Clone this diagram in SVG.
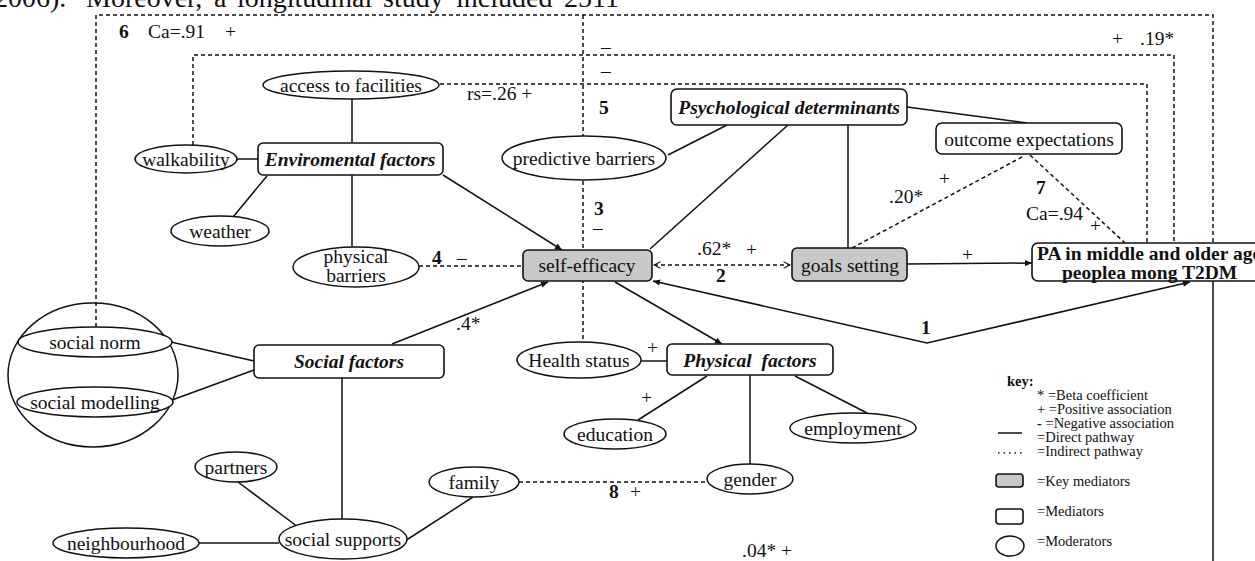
<svg xmlns="http://www.w3.org/2000/svg" width="1255" height="561" viewBox="0 0 1255 561">
<defs>
<marker id="ah" viewBox="0 0 10 10" refX="10" refY="5" markerUnits="userSpaceOnUse" markerWidth="9" markerHeight="7" orient="auto-start-reverse"><path d="M0,0.5 L10,5 L0,9.5 z" fill="#111"/></marker>
<marker id="ch" viewBox="0 0 10 10" refX="9" refY="5" markerUnits="userSpaceOnUse" markerWidth="8" markerHeight="8" orient="auto-start-reverse"><path d="M1,1 L9,5 L1,9" fill="none" stroke="#111" stroke-width="1.3"/></marker>
</defs>
<style>
text{font-family:"Liberation Serif","Times New Roman",serif;fill:#111;font-size:19.5px}
.b{font-weight:bold}
.bi{font-weight:bold;font-style:italic}
.c{text-anchor:middle}
.k{font-size:14.5px}
.t{font-size:28px}
.s{fill:none;stroke:#111;stroke-width:1.5}
.d{fill:none;stroke:#111;stroke-width:1.5;stroke-dasharray:4 3}
.box{fill:#fff;stroke:#111;stroke-width:1.6}
.key{fill:#c8c8c8;stroke:#111;stroke-width:1.6}
.el{fill:#fff;stroke:#111;stroke-width:1.5}
</style>
<rect width="1255" height="561" fill="#fff"/>
<g id="toptext">
<text class="t" x="-6" y="7">2006).</text>
<text class="t" x="86" y="7">Moreover,</text>
<text class="t" x="214" y="7">a</text>
<text class="t" x="237" y="7">longitudinal</text>
<text class="t" x="383" y="7">study</text>
<text class="t" x="456" y="7">included</text>
<text class="t" x="564" y="7">2511</text>
</g>

<g id="connectors">
<path class="d" d="M96,327 V15 H1213 V243"/>
<path class="d" d="M193,145 V55 H1174 V243"/>
<path class="d" d="M440,84 H1147 V243"/>
<path class="d" d="M583,15 V136"/>
<path class="d" d="M583,181 V342"/>
<path class="d" d="M419,266 H523"/>
<path class="d" d="M654,265 H790" marker-start="url(#ch)" marker-end="url(#ch)"/>
<path class="d" d="M852,248 L1022,157"/>
<path class="d" d="M1030,155 L1125,243"/>
<path class="d" d="M519,482 H707"/>
<path class="s" d="M352,99 V143"/>
<path class="s" d="M236,159 H258"/>
<path class="s" d="M267,176 L233,217"/>
<path class="s" d="M352,175 V247"/>
<path class="s" d="M443,175 L562,250" marker-end="url(#ah)"/>
<path class="s" d="M727,125 L668,155"/>
<path class="s" d="M788,125 L650,249"/>
<path class="s" d="M848,125 V248"/>
<path class="s" d="M907,107 L1027,123"/>
<path class="s" d="M907,264 L1032,263" marker-end="url(#ah)"/>
<path class="s" d="M653,281 L927,343 L1190,282" marker-start="url(#ah)" marker-end="url(#ah)"/>
<path class="s" d="M615,282 L722,344" marker-end="url(#ah)"/>
<path class="s" d="M392,344 L548,282" marker-end="url(#ah)"/>
<path class="s" d="M171,342 L254,361"/>
<path class="s" d="M172,400 L254,370"/>
<path class="s" d="M342,378 V519"/>
<path class="s" d="M199,543 H279"/>
<path class="s" d="M238,482 L298,527"/>
<path class="s" d="M473,497 L405,541"/>
<path class="s" d="M641,361 H667"/>
<path class="s" d="M707,376 L638,420"/>
<path class="s" d="M750,375 V464"/>
<path class="s" d="M795,376 L867,413"/>
<path class="s" d="M1213,281 V561"/>
</g>

<g id="labels">
<text x="119" y="38" class="b">6</text>
<text x="148" y="38">Ca=.91</text>
<text x="225" y="38">+</text>
<text x="601" y="53">–</text>
<text x="601" y="77">–</text>
<text x="1112" y="45">+</text>
<text x="1140" y="45">.19*</text>
<text x="467" y="100">rs=.26 +</text>
<text x="599" y="114" class="b">5</text>
<text x="594" y="215" class="b">3</text>
<text x="593" y="234">–</text>
<text x="432" y="264" class="b">4</text>
<text x="457" y="264">–</text>
<text x="697" y="255">.62*</text>
<text x="746" y="256">+</text>
<text x="716" y="282" class="b">2</text>
<text x="889" y="203">.20*</text>
<text x="939" y="185">+</text>
<text x="1036" y="194" class="b">7</text>
<text x="1026" y="220">Ca=.94</text>
<text x="1090" y="232">+</text>
<text x="962" y="261">+</text>
<text x="921" y="334" class="b">1</text>
<text x="456" y="330">.4*</text>
<text x="647" y="354">+</text>
<text x="641" y="404">+</text>
<text x="609" y="498" class="b">8</text>
<text x="630" y="498">+</text>
<text x="742" y="557">.04* +</text>
</g>

<g id="n-access"><ellipse class="el" cx="351" cy="85" rx="88" ry="14"/><text class="c" x="351" y="92">access to facilities</text></g>
<g id="n-walkability"><ellipse class="el" cx="186" cy="159" rx="51" ry="14"/><text class="c" x="186" y="166">walkability</text></g>
<g id="n-env"><rect class="box" x="258" y="143" width="185" height="32" rx="5"/><text class="c bi" x="350" y="166">Enviromental factors</text></g>
<g id="n-weather"><ellipse class="el" cx="220" cy="231" rx="49" ry="15"/><text class="c" x="220" y="238">weather</text></g>
<g id="n-physbarriers"><ellipse class="el" cx="356" cy="267" rx="63" ry="20"/><text class="c" x="356" y="263">physical</text><text class="c" x="356" y="282">barriers</text></g>
<g id="n-predictive"><ellipse class="el" cx="584" cy="158" rx="82" ry="22"/><text class="c" x="584" y="165">predictive barriers</text></g>
<g id="n-psych"><rect class="box" x="671" y="89" width="236" height="36" rx="6"/><text class="c bi" x="789" y="114">Psychological determinants</text></g>
<g id="n-outcome"><rect class="box" x="936" y="123" width="186" height="31" rx="6"/><text class="c" x="1029" y="146">outcome expectations</text></g>
<g id="n-selfeff"><rect class="key" x="523" y="250" width="129" height="31" rx="5"/><text class="c" x="587" y="272">self-efficacy</text></g>
<g id="n-goals"><rect class="key" x="792" y="248" width="115" height="33" rx="5"/><text class="c" x="850" y="272">goals setting</text></g>
<g id="n-pa"><rect class="box" x="1032" y="243" width="240" height="38" rx="6"/><text class="b" x="1037" y="260">PA in middle and older age</text><text class="b" x="1062" y="279">peoplea mong T2DM</text></g>
<g id="n-socialgroup"><ellipse cx="93" cy="375" rx="85" ry="72" fill="none" stroke="#111" stroke-width="1.5"/>
<ellipse class="el" cx="95" cy="342" rx="77" ry="15"/><text class="c" x="95" y="349">social norm</text>
<ellipse class="el" cx="95" cy="402" rx="78" ry="15"/><text class="c" x="95" y="409">social modelling</text></g>
<g id="n-socfactors"><rect class="box" x="254" y="345" width="190" height="33" rx="5"/><text class="c bi" x="349" y="368">Social factors</text></g>
<g id="n-health"><ellipse class="el" cx="579" cy="360" rx="62" ry="18"/><text class="c" x="579" y="367">Health status</text></g>
<g id="n-physical"><rect class="box" x="667" y="344" width="166" height="31" rx="5"/><text class="c bi" x="750" y="367" word-spacing="5">Physical factors</text></g>
<g id="n-education"><ellipse class="el" cx="615" cy="434" rx="51" ry="15"/><text class="c" x="615" y="441">education</text></g>
<g id="n-employment"><ellipse class="el" cx="853" cy="428" rx="63" ry="15"/><text class="c" x="853" y="435">employment</text></g>
<g id="n-gender"><ellipse class="el" cx="750" cy="479" rx="43" ry="15"/><text class="c" x="750" y="486">gender</text></g>
<g id="n-family"><ellipse class="el" cx="474" cy="482" rx="45" ry="15"/><text class="c" x="474" y="489">family</text></g>
<g id="n-partners"><ellipse class="el" cx="236" cy="467" rx="41" ry="15"/><text class="c" x="236" y="474">partners</text></g>
<g id="n-neighbourhood"><ellipse class="el" cx="126" cy="543" rx="73" ry="15"/><text class="c" x="126" y="550">neighbourhood</text></g>
<g id="n-socsupports"><ellipse class="el" cx="343" cy="539" rx="64" ry="20"/><text class="c" x="343" y="546">social supports</text></g>

<g id="key">
<text class="k b" x="1007" y="386">key:</text>
<text class="k" x="1037" y="400">* =Beta coefficient</text>
<text class="k" x="1037" y="414">+ =Positive association</text>
<text class="k" x="1037" y="428"><tspan font-weight="bold">-</tspan> =Negative association</text>
<path d="M998,433 H1022" stroke="#111" stroke-width="1.5"/>
<text class="k" x="1037" y="442">=Direct pathway</text>
<path d="M998,453 H1022" stroke="#111" stroke-width="1.3" stroke-dasharray="1.5 4"/>
<text class="k" x="1037" y="456">=Indirect pathway</text>
<rect class="key" x="996" y="474" width="27" height="13" rx="3"/>
<text class="k" x="1037" y="486">=Key mediators</text>
<rect class="box" x="996" y="509" width="27" height="15" rx="3"/>
<text class="k" x="1037" y="516">=Mediators</text>
<ellipse class="el" cx="1010" cy="546" rx="14" ry="10"/>
<text class="k" x="1037" y="546">=Moderators</text>
</g>
</svg>
